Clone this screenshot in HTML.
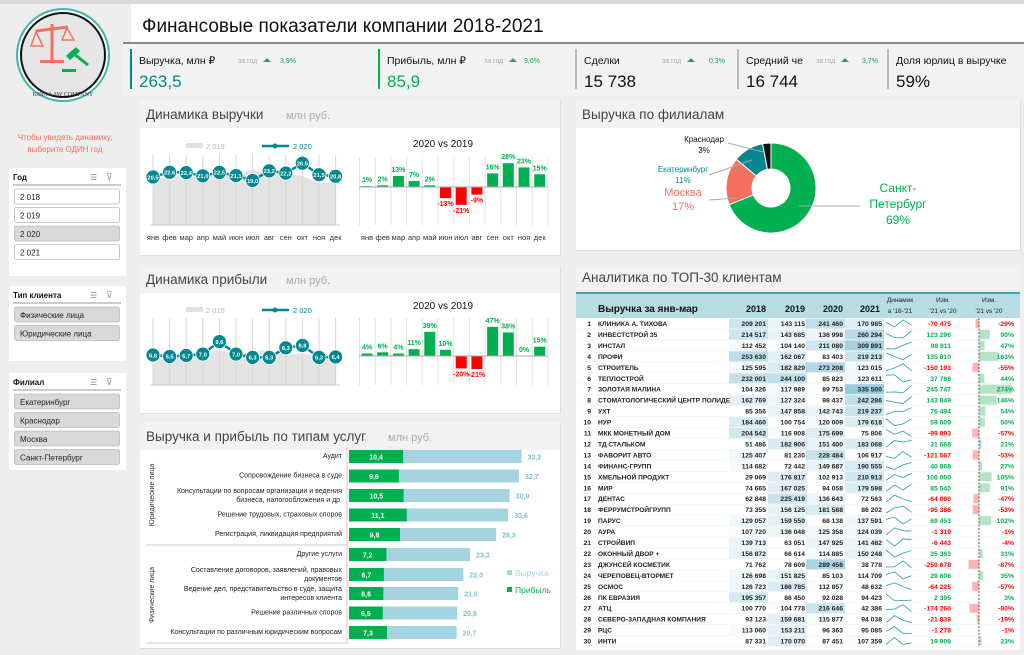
<!DOCTYPE html>
<html><head><meta charset="utf-8">
<style>
html,body{margin:0;padding:0;background:#eeeeee;}
svg{display:block;font-family:"Liberation Sans",sans-serif;}
</style></head>
<body>
<svg id="s" width="1024" height="655" viewBox="0 0 1024 655" xmlns="http://www.w3.org/2000/svg"></svg>
<script>
var o=[];
function R(x,y,w,h,f,ex){o.push('<rect x="'+x+'" y="'+y+'" width="'+w+'" height="'+h+'" fill="'+f+'" '+(ex||'')+'/>');}
function T(x,y,s,sz,c,a,w,ex){o.push('<text x="'+x+'" y="'+y+'" font-size="'+sz+'" fill="'+(c||'#222')+'" text-anchor="'+(a||'start')+'" font-weight="'+(w||'normal')+'" '+(ex||'')+'>'+s+'</text>');}
function L(x1,y1,x2,y2,c,w,ex){o.push('<line x1="'+x1+'" y1="'+y1+'" x2="'+x2+'" y2="'+y2+'" stroke="'+c+'" stroke-width="'+(w||1)+'" '+(ex||'')+'/>');}
var TEAL='#00878f',GR='#00b050',RED='#ff0000';
R(0,0,1024,655,'#eeeeee');
R(0,0,1024,4,'#d9d9d9');
o.push('<circle cx="63" cy="55" r="46" fill="#fff" stroke="#3fb5b0" stroke-width="2"/>');
o.push('<circle cx="63" cy="55" r="42" fill="#e6e6e6" stroke="#111" stroke-width="2"/>');
L(52,24,52,62,'#f4705e',3);L(36,31,68,27,'#f4705e',3);R(40,60,24,3,'#f4705e');
o.push('<path d="M36 32 L31 46 L43 46 Z M67 28 L62 40 L74 40 Z" fill="none" stroke="#f4705e" stroke-width="1.5"/>');
o.push('<path d="M66 56 L76 47 L80 51 L70 60 Z" fill="'+GR+'"/>');L(74,54,88,65,GR,3);R(62,69,14,3,GR);
T(63,96,'KING LAW COMPANY',6,'#333','middle','normal','font-family="Liberation Serif"');
T(65,140,'Чтобы увидеть динамику,',8,'#f4705e','middle');
T(65,152,'выберите ОДИН год',8,'#f4705e','middle');
function slicer(y,h,title,items,sel){R(9,y,117,h,'#fff');T(13,y+12,title,8,'#111','start','bold');
 L(13,y+17,121,y+17,'#999',1);
 T(90,y+12,'☰',8,'#888');T(106,y+12,'⊽',9,'#999');
 items.forEach(function(it,i){var yy=y+21+i*18.5;R(14.5,yy,105,15,sel(i)?'#d9d9d9':'#fff','rx="2" stroke="#bbb" stroke-width="0.8"');T(20,yy+11,it,8,'#222');});}
slicer(168,108,'Год',['2 018','2 019','2 020','2 021'],function(i){return i==2});
slicer(286,75,'Тип клиента',['Физические лица','Юридические лица'],function(){return true});
slicer(373,97,'Филиал',['Екатеринбург','Краснодар','Москва','Санкт-Петербург'],function(){return true});
R(131,4,893,42,'#fff');
T(142,32,'Финансовые показатели компании 2018-2021',19,'#111');
L(123,43,1024,43,'#444',1.3);
R(123,44,901,52,'#f2f2f2');
function kpi(x,bar,title,zx,px,pct,val,vc,clip){R(x,49,2,40,bar);T(x+9,64,title,10.5,'#111');
 if(clip)R(x+clip,52,40,16,'#f2f2f2');
 if(zx){T(x+zx,63,'за год',7,'#aaa');o.push('<path d="M'+(x+zx+25)+' 62 l4 -4 l4 4 z" fill="#4a8f7a"/>');T(x+px,63,pct,7,GR);} T(x+9,87,val,17,vc);}
kpi(130,TEAL,'Выручка, млн ₽',108,150,'3,9%','263,5',TEAL);
kpi(378,GR,'Прибыль, млн ₽',106,146,'9,6%','85,9',GR);
kpi(575,'#bbb','Сделки',87,134,'0,3%','15 738','#111');
kpi(737,'#bbb','Средний чек',79,125,'3,7%','16 744','#111',66);
kpi(887,'#bbb','Доля юрлиц в выручке',0,0,'','59%','#111');
function panel(x,y,w,h,hh,title,sub){R(x+1,y+1,w,h,'#ddd');R(x,y,w,h,'#fff');R(x,y,w,hh,'#f2f2f2');T(x+6,y+19,title,13.5,'#444');if(sub)T(x+146,y+19,sub,11,'#aaa');}
panel(140,100,420,155,28,'Динамика выручки','млн руб.');
panel(140,265,420,148,28,'Динамика прибыли','млн руб.');
panel(140,422,420,226,28,'Выручка и прибыль по типам услуг','');
T(388,441,'млн руб.',11,'#aaa');
panel(576,100,444,150,28,'Выручка по филиалам','');
R(576,265,444,25,'#f2f2f2');T(582,282,'Аналитика по ТОП-30 клиентам',13.5,'#444');
R(576,292,444,358,'#fff');
var mon=['янв','фев','мар','апр','май','июн','июл','авг','сен','окт','ноя','дек'];
function lineChart(y0,yb,vals,fy,area,showM,my){
 var xs=[];for(var i=0;i<12;i++)xs.push(153+i*16.6);
 var p='M'+xs[0]+' '+yb;area.forEach(function(v,i){p+=' L'+xs[i]+' '+v;});p+=' L'+xs[11]+' '+yb+' Z';
 o.push('<path d="'+p+'" fill="#e3e3e3"/>');
 xs.forEach(function(x){L(x,y0,x,yb,'#d6d6d6',1);});L(150,yb,340,yb,'#ccc',1);
 var pl=vals.map(function(v,i){return xs[i]+','+fy(v)}).join(' ');
 o.push('<polyline points="'+pl+'" fill="none" stroke="'+TEAL+'" stroke-width="2.5"/>');
 vals.forEach(function(v,i){o.push('<circle cx="'+xs[i]+'" cy="'+fy(v)+'" r="7" fill="'+TEAL+'" stroke="#fff" stroke-width="0.8"/>');T(xs[i],fy(v)+2.3,(''+v.toFixed(1)).replace('.',','),5.8,'#fff','middle','bold');});
 if(showM)mon.forEach(function(m,i){T(xs[i],my,m,7.5,'#333','middle');});
}
function legend(y){R(186,y-4,17,5,'#e0e0e0');T(206,y+2,'2 019',7.5,'#bbb');L(262,y-1,289,y-1,TEAL,2.5);o.push('<circle cx="275" cy="'+(y-1)+'" r="2.5" fill="'+TEAL+'"/>');T(293,y+2,'2 020',7.5,TEAL);}
function barChart(yt,y0,yb,vals,k,showM,my){
 T(443,yt,'2020 vs 2019',10,'#111','middle');
 for(var i=0;i<=12;i++){var x=359.5+i*15.7;L(x,y0,x,yb,'#e2e2e2',1);}
 vals.forEach(function(v,i){var cx=367+i*15.7;var h=Math.abs(v)*k;var base=vals.base;
  if(v>=0){R(cx-5.5,base-h,11,h,GR);T(cx,base-h-4,v+'%',7,GR,'middle','bold');}
  else{R(cx-5.5,base,11,h,RED);T(cx,base+h+8,v+'%',7,RED,'middle','bold');}});
 L(359,vals.base,548,vals.base,'#aaa',1);
 if(showM)mon.forEach(function(m,i){T(367+i*15.7,my,m,7.5,'#333','middle');});
}
legend(147);
var rv=[20.5,22.6,22.4,21.0,22.5,21.1,19.0,23.2,22.2,26.5,21.5,20.8];
lineChart(155,225,rv,function(v){return 177-(v-20.5)*2.3},[180,176,175,178,174,172,170,173,174,176,183,182],true,240);
var rb=[1,2,13,7,2,-13,-21,-9,16,28,23,15];rb.base=187;
barChart(147,157,225,rb,0.85,true,240);
legend(311);
var pv=[6.8,6.5,6.7,7.0,9.6,7.0,6.3,6.3,8.3,8.8,6.3,6.4];
lineChart(318,385,pv,function(v){return 355-(v-6.8)*4.8},[360,358,356,354,350,355,351,350,355,353,357,358],false);
var pb=[4,6,4,11,39,10,-20,-21,47,38,0,15];pb.base=356;
barChart(309,318,385,pb,0.62,false);
var sv=[['Аудит'],33.2,10.4,['Сопровождение бизнеса в суде'],32.7,9.6,['Консультации по вопросам организации и ведения','бизнеса, налогообложения и др.'],30.9,10.5,['Решение трудовых, страховых споров'],30.6,11.1,['Регистрация, ликвидация предприятий'],28.3,9.8,['Другие услуги'],23.3,7.2,['Составление договоров, заявлений, правовых','документов'],22.0,6.7,['Ведение дел, представительство в суде, защита','интересов клиента'],21.0,6.6,['Решение различных споров'],20.8,6.5,['Консультации по различным юридическим вопросам'],20.7,7.3];
var ys=[457,476.5,496,515.5,535,555,575,594,613.5,633];
for(var i=0;i<10;i++){var lab=sv[i*3],rev=sv[i*3+1],pr=sv[i*3+2],y=ys[i];
 if(lab.length==1)T(342,y+1,lab[0],7,'#222','end');else{T(342,y-3,lab[0],7,'#222','end');T(342,y+6,lab[1],7,'#222','end');}
 R(349,y-7,rev*5.2,13,'#a5d4e0');R(349,y-7,pr*5.2,13,GR);
 T(349+pr*5.2/2,y+2.5,(''+pr.toFixed(1)).replace('.',','),7,'#fff','middle','bold');
 T(349+rev*5.2+6,y+2.5,(''+rev.toFixed(1)).replace('.',','),7,'#7fbfd0','start','bold');}
L(347,447,347,643,'#ccc',1);L(147,545,347,545,'#ccc',1);L(147,643,347,643,'#ccc',1);
T(0,0,'Юридические лица',7,'#333','middle','normal','transform="translate(154,495) rotate(-90)"');
T(0,0,'Физические лица',7,'#333','middle','normal','transform="translate(154,595) rotate(-90)"');
R(507,570,5,5,'#a5d4e0');T(515,576,'Выручка',8.5,'#a5d4e0');
R(507,587,5,5,GR);T(515,593,'Прибыль',8.5,GR);
var cx=771,cy=188,ro=45,ri=19;
function arc(a0,a1,c){function pt(a,r){var t=(a-90)*Math.PI/180;return (cx+r*Math.cos(t)).toFixed(2)+' '+(cy+r*Math.sin(t)).toFixed(2);}
 var lg=(a1-a0)>180?1:0;o.push('<path d="M'+pt(a0,ro)+' A'+ro+' '+ro+' 0 '+lg+' 1 '+pt(a1,ro)+' L'+pt(a1,ri)+' A'+ri+' '+ri+' 0 '+lg+' 0 '+pt(a0,ri)+' Z" fill="'+c+'" stroke="#fff" stroke-width="1"/>');}
arc(0,248.4,GR);arc(248.4,309.6,'#f4705e');arc(309.6,349.2,TEAL);arc(349.2,360,'#111');
L(799,206,860,206,'#aaa');L(736,198,709,200,'#aaa');L(752,160,709,175,'#aaa');L(763,152,728,143,'#aaa');
T(898,192,'Санкт-',12,GR,'middle');T(898,208,'Петербург',12,GR,'middle');T(898,224,'69%',12,GR,'middle');
T(683,196,'Москва',11,'#f4705e','middle');T(683,210,'17%',11,'#f4705e','middle');
T(683,172,'Екатеринбург',8,TEAL,'middle');T(683,183,'11%',8,TEAL,'middle');
T(704,142,'Краснодар',8,'#111','middle');T(704,153,'3%',8,'#111','middle');
R(576,293,444,25,'#b7dde3');L(576,293,1020,293,'#4aa7a8',2);
T(598,312,'Выручка за янв-мар',10,'#111','start','bold');
[['2018',766],['2019',805],['2020',843],['2021',880]].forEach(function(a){T(a[1],312,a[0],9,'#111','end','bold');});
T(900,302,'Динамик',6.5,'#222','middle');T(900,313,'а \'18-\'21',6.5,'#222','middle');
T(943,302,'Изм.',6.5,'#222','middle');T(943,313,'\'21 vs \'20',6.5,'#222','middle');
T(989,302,'Изм.',6.5,'#222','middle');T(989,313,'\'21 vs \'20',6.5,'#222','middle');
var D=[['КЛИНИКА  А. ТИХОВА',209201,143115,241460,170985,-70475,-29],['ИНВЕСТСТРОЙ 35',214517,143685,136998,260294,123296,90],['ИНСТАЛ',112452,104140,211080,309891,98811,47],['ПРОФИ',253630,162067,83403,219213,135810,163],['СТРОИТЕЛЬ',125595,182829,273208,123015,-150193,-55],['ТЕПЛОСТРОЙ',232001,244100,85823,123611,37788,44],['ЗОЛОТАЯ МАЛИНА',104326,117989,89753,335500,245747,274],['СТОМАТОЛОГИЧЕСКИЙ ЦЕНТР ПОЛИДЕ',162769,127324,98437,242286,143849,146],['УХТ',85356,147858,142743,219237,76494,54],['НУР',184460,100754,120009,179618,59609,50],['МКК МОНЕТНЫЙ ДОМ',204542,116908,175699,75806,-99893,-57],['ТД СТАЛЬКОМ',51486,182906,151400,183068,31668,21],['ФАВОРИТ АВТО',125407,81230,228484,106917,-121567,-53],['ФИНАНС-ГРУПП',114682,72442,149687,190555,40868,27],['ХМЕЛЬНОЙ ПРОДУКТ',29069,176817,102913,210913,108000,105],['МИР',74665,167025,94058,179598,85540,91],['ДЕНТАС',62848,225419,136643,72563,-64080,-47],['ФЕРРУМСТРОЙГРУПП',73355,156125,181588,86202,-95386,-53],['ПАРУС',129057,159550,68138,137591,69453,102],['АУРА',107720,136048,125358,124039,-1319,-1],['СТРОЙВИП',139713,63051,147925,141482,-6443,-4],['ОКОННЫЙ ДВОР +',156872,66614,114885,150248,35363,31],['ДЖУНСЕЙ КОСМЕТИК',71762,78609,289456,38778,-250678,-87],['ЧЕРЕПОВЕЦ-ВТОРМЕТ',126698,151825,85103,114709,29606,35],['ОСМОС',126723,186785,112857,48632,-64225,-57],['ПК ЕВРАЗИЯ',195357,86450,92028,94423,2395,3],['АТЦ',100770,104778,216646,42386,-174260,-80],['СЕВЕРО-ЗАПАДНАЯ КОМПАНИЯ',93123,159681,115877,94038,-21839,-19],['РЦС',113060,153211,96363,95085,-1278,-1],['ИНТИ',87331,170070,87451,107359,19908,23]];
function f(n){var s=Math.abs(n).toString().replace(/\B(?=(\d{3})+(?!\d))/g,' ');return (n<0?'-':'')+s;}
var cols=[[729,766],[768,805],[806,843],[845,882]];
D.forEach(function(r,i){var y=318+i*10.95,ty=y+8;
 for(var c=0;c<4;c++){var v=r[c+1];var a=Math.max(0,(v-95000)/240000);if(a>0)R(cols[c][0],y+0.5,cols[c][1]-cols[c][0]+2,10,'rgba(70,160,195,'+(a*0.55).toFixed(3)+')');}
 L(580,y+10.95,1016,y+10.95,'#eef3f5',0.6);
 T(591,ty,i+1,6.8,'#222','end','bold');T(598,ty,r[0],6.6,'#222','start','bold');
 for(var c=0;c<4;c++)T(cols[c][1],ty,f(r[c+1]),6.8,'#222','end','bold');
 var vs=r.slice(1,5),mn=Math.min.apply(0,vs),mx=Math.max.apply(0,vs);
 var pts=vs.map(function(v,j){return (886+j*8.5)+','+(y+9-(v-mn)/(mx-mn)*7).toFixed(1)}).join(' ');
 o.push('<polyline points="'+pts+'" fill="none" stroke="#3aa6b0" stroke-width="0.9"/>');
 T(951,ty,f(r[5]),6.8,r[5]<0?RED:GR,'end','bold');
 var w=Math.abs(r[6])*0.12;if(r[6]<0)R(979-w,y+1,w,9,'#ffb3b3');else R(979,y+1,w,9,'#b5e3c6');
 T(1014,ty,r[6]+'%',6.8,r[6]<0?RED:GR,'end','bold');
});
L(979,318,979,647,'#333',0.8,'stroke-dasharray="2,1.5"');
document.getElementById('s').innerHTML=o.join('');
</script>
</body></html>
